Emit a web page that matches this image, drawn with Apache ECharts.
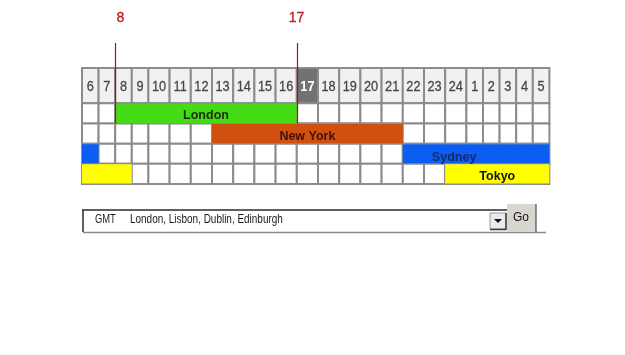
<!DOCTYPE html>
<html>
<head>
<meta charset="utf-8">
<script src="https://cdn.jsdelivr.net/npm/echarts@6/dist/echarts.min.js"></script>
<style>
html,body{margin:0;padding:0;background:#fff;}
#chart{width:625px;height:355px;}
</style>
</head>
<body>
<div id="chart"></div>
<script>
// ---- data ----
const hours = [6,7,8,9,10,11,12,13,14,15,16,17,18,19,20,21,22,23,24,1,2,3,4,5];
const currentHour = 17;
const markerHours = [8, 17];
const sessionNames = ['London', 'New York', 'Sydney', 'Tokyo'];
const sessionOpen  = [8, 13, 22, 24];
const sessionClose = [17, 22, 7, 9];
const zoneLabel = 'GMT';
const zoneCities = 'London, Lisbon, Dublin, Edinburgh';
const buttonLabel = 'Go';

// ---- layout helpers (table-like: cell width grows with label digits) ----
const colW = hours.map(h => 12 + String(h).length * 4.6);
const colStart = [];
let acc = 0;
colW.forEach(w => { colStart.push(acc); acc += w; });
const totalW = acc;
const HEADER_H = 1.75;
function rowTop(r) { return r === 0 ? 0 : HEADER_H + (r - 1); }
function rowBot(r) { return r === 0 ? HEADER_H : HEADER_H + r; }
const nRows = 1 + sessionNames.length;
const yMax = rowBot(nRows - 1);

// styles
const sessionColors = ['#44dc14', '#d2500f', '#0c5ef2', '#ffff00'];
const sessionText   = ['#1d2b0d', '#3a1508', '#16286a', '#111111'];
const labelShift    = [0, 0, -22, 0];
const labelDrop     = [2.5, 3, 4, 3];
const gridColor = '#8c8c8c';
const FONT = 'Liberation Sans, Arial, sans-serif';

// cells data
const cellData = [];
for (let r = 0; r < nRows; r++) for (let c = 0; c < hours.length; c++) cellData.push([c, r]);

// session segments data: [colFrom, colTo, row, sessionIndex, isMain]
const segData = [];
sessionNames.forEach((n, i) => {
  const a = hours.indexOf(sessionOpen[i]);
  const b = hours.indexOf(sessionClose[i]);
  if (b > a) segData.push([a, b, i + 1, i, 1]);
  else {
    segData.push([a, hours.length, i + 1, i, 1]);
    if (b > 0) segData.push([0, b, i + 1, i, 0]);
  }
});
const markerData = markerHours.map(h => [hours.indexOf(h), h]);

function xAt(ci) { return ci >= hours.length ? totalW : colStart[ci]; }

const chart = echarts.init(document.getElementById('chart'));
chart.setOption({
  animation: false,
  grid: { left: 82, top: 68, width: totalW, height: 116 },
  xAxis: { type: 'value', min: 0, max: totalW, show: false },
  yAxis: { type: 'value', min: 0, max: yMax, inverse: true, show: false },
  series: [
    {
      type: 'custom', clip: false, z: 1,
      data: cellData,
      renderItem: function (params, api) {
        const c = api.value(0), r = api.value(1);
        const p0 = api.coord([colStart[c], rowTop(r)]);
        const p1 = api.coord([colStart[c] + colW[c], rowBot(r)]);
        const isHeader = r === 0;
        const isCur = isHeader && hours[c] === currentHour;
        const children = [{
          type: 'rect',
          shape: { x: p0[0], y: p0[1], width: p1[0] - p0[0], height: p1[1] - p0[1] },
          style: { fill: isCur ? '#727272' : (isHeader ? '#f1f1f1' : '#ffffff'), stroke: gridColor, lineWidth: 2 }
        }];
        if (isHeader) {
          children.push({
            type: 'text',
            x: (p0[0] + p1[0]) / 2, y: (p0[1] + p1[1]) / 2 + 1.5,
            scaleX: 0.85,
            style: {
              text: String(hours[c]), x: 0, y: 0, align: 'center', verticalAlign: 'middle',
              fontFamily: FONT, fontSize: 15,
              fontWeight: isCur ? 'bold' : 'normal',
              fill: isCur ? '#ffffff' : '#474747',
              stroke: isCur ? null : '#474747', lineWidth: isCur ? 0 : 0.3
            }
          });
        }
        return { type: 'group', children: children };
      }
    },
    {
      type: 'custom', clip: false, z: 2,
      data: segData,
      renderItem: function (params, api) {
        const a = api.value(0), b = api.value(1), r = api.value(2), si = api.value(3), main = api.value(4);
        const p0 = api.coord([xAt(a), rowTop(r)]);
        const p1 = api.coord([xAt(b), rowBot(r)]);
        const children = [{
          type: 'rect',
          shape: { x: p0[0], y: p0[1] + 0.5, width: p1[0] - p0[0], height: p1[1] - p0[1] - 1 },
          style: { fill: sessionColors[si] }
        }];
        if (main) {
          children.push({
            type: 'text',
            x: (p0[0] + p1[0]) / 2 + labelShift[si], y: (p0[1] + p1[1]) / 2 + labelDrop[si],
            style: {
              text: sessionNames[si], x: 0, y: 0, align: 'center', verticalAlign: 'middle',
              fontFamily: FONT, fontSize: 12.5, fontWeight: 'bold',
              fill: sessionText[si]
            }
          });
        }
        return { type: 'group', children: children };
      }
    },
    {
      type: 'custom', clip: false, z: 3,
      data: markerData,
      renderItem: function (params, api) {
        const c = api.value(0), h = api.value(1);
        const pb = api.coord([colStart[c], rowBot(1)]);
        const x = Math.round(pb[0]) + 0.5;
        return {
          type: 'group',
          children: [
            { type: 'line', shape: { x1: x, y1: 43, x2: x, y2: pb[1] }, style: { stroke: '#b01010', lineWidth: 1.2 } },
            { type: 'text', x: x + (String(h).length === 1 ? 5 : -1), y: 18.5,
              style: { text: String(h), x: 0, y: 0, align: 'center', verticalAlign: 'middle',
                fontFamily: FONT, fontSize: 14, fill: '#c01818', stroke: '#c01818', lineWidth: 0.3 } }
          ]
        };
      }
    }
  ],
  graphic: [
    { type: 'rect', shape: { x: 83, y: 210, width: 424, height: 22 }, style: { fill: '#ffffff' } },
    { type: 'line', shape: { x1: 82, y1: 210, x2: 507, y2: 210 }, style: { stroke: '#2a2a2a', lineWidth: 1.5 } },
    { type: 'line', shape: { x1: 83, y1: 210, x2: 83, y2: 232 }, style: { stroke: '#2a2a2a', lineWidth: 1.5 } },
    { type: 'line', shape: { x1: 83, y1: 232.5, x2: 546, y2: 232.5 }, style: { stroke: '#8a8a8a', lineWidth: 1.5 } },
    { type: 'text', x: 95, y: 220, scaleX: 0.78, style: { text: zoneLabel, x: 0, y: 0, verticalAlign: 'middle', fontFamily: FONT, fontSize: 12, fill: '#1a1a1a' } },
    { type: 'text', x: 130, y: 220, scaleX: 0.83, style: { text: zoneCities, x: 0, y: 0, verticalAlign: 'middle', fontFamily: FONT, fontSize: 12, fill: '#1a1a1a' } },
    { type: 'rect', shape: { x: 490, y: 213, width: 16, height: 16 }, style: { fill: '#ebebeb', stroke: '#9a9a9a', lineWidth: 1 } },
    { type: 'line', shape: { x1: 506, y1: 213, x2: 506, y2: 230 }, style: { stroke: '#3a3a3a', lineWidth: 1.5 } },
    { type: 'line', shape: { x1: 490, y1: 229.5, x2: 506, y2: 229.5 }, style: { stroke: '#3a3a3a', lineWidth: 1.5 } },
    { type: 'polygon', shape: { points: [[494, 219], [502, 219], [498, 223]] }, style: { fill: '#111' } },
    { type: 'rect', shape: { x: 507, y: 204, width: 29, height: 28 }, style: { fill: '#d9d6cf' } },
    { type: 'line', shape: { x1: 536, y1: 204, x2: 536, y2: 232 }, style: { stroke: '#4a4a4a', lineWidth: 1.2 } },
    { type: 'text', x: 521, y: 218, style: { text: buttonLabel, x: 0, y: 0, align: 'center', verticalAlign: 'middle', fontFamily: FONT, fontSize: 12, fill: '#111' } }
  ]
});
</script>
</body>
</html>
